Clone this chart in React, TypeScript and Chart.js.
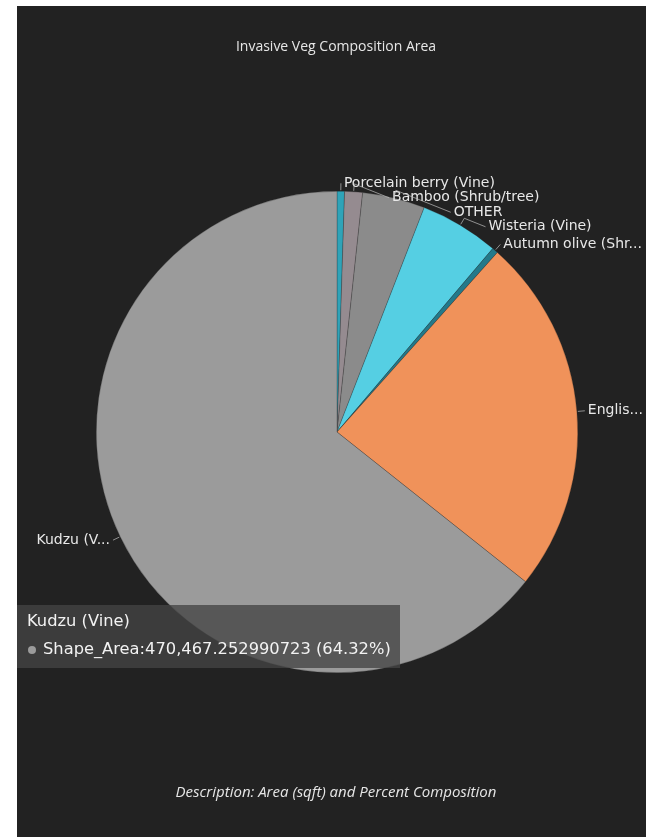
import React, { useEffect, useRef } from "react";
import { Chart, registerables } from "chart.js";

Chart.register(...registerables);

// ---- data ----
const chartTitle = "Invasive Veg Composition Area";
const descriptionText = "Description: Area (sqft) and Percent Composition";
const measureName = "Shape_Area";
const categories = [
  "Porcelain berry (Vine)",
  "Bamboo (Shrub/tree)",
  "OTHER",
  "Wisteria (Vine)",
  "Autumn olive (Shrub/tree)",
  "English ivy (Vine)",
  "Kudzu (Vine)",
];
const areas = [3660, 8780, 30720, 38770, 2930, 176130, 470467.252990723];
const sliceColors = ["#2fa3b8", "#958b90", "#8b8b8b", "#55cfe3", "#23798a", "#f0925a", "#9b9b9b"];
const tooltipIndex = 6;

const W = 629;
const H = 831;
const BG = "#222222";
const FONT = "'Open Sans', 'Noto Sans', sans-serif";
const LABEL_FONT = "14px 'DejaVu Sans', sans-serif";

function fit(ctx: CanvasRenderingContext2D, text: string, maxW: number) {
  if (ctx.measureText(text).width <= maxW) return text;
  let t = text;
  while (t.length > 1 && ctx.measureText(t + "...").width > maxW) t = t.slice(0, -1);
  return t + "...";
}

const decorPlugin = {
  id: "decor",
  beforeDraw(chart: any) {
    const ctx = chart.ctx;
    ctx.save();
    ctx.fillStyle = BG;
    ctx.fillRect(0, 0, chart.width, chart.height);
    ctx.restore();
  },
  afterDatasetsDraw(chart: any) {
    const ctx: CanvasRenderingContext2D = chart.ctx;
    const meta = chart.getDatasetMeta(0);
    const items = meta.data.map((arc: any, i: number) => {
      const p = arc.getProps(["x", "y", "startAngle", "endAngle", "outerRadius"], true);
      const mid = (p.startAngle + p.endAngle) / 2;
      const c = Math.cos(mid), s = Math.sin(mid);
      return {
        i,
        right: c >= 0,
        ax: p.x + c * (p.outerRadius + 1),
        ay: p.y + s * (p.outerRadius + 1),
        ex: p.x + c * (p.outerRadius + 8),
        ey: p.y + s * (p.outerRadius + 8),
        ly: 0,
      };
    });
    ctx.save();
    ctx.font = LABEL_FONT;
    ctx.textBaseline = "middle";
    for (const side of [true, false]) {
      const list = items.filter((it: any) => it.right === side).sort((a: any, b: any) => a.ey - b.ey);
      let prev = -Infinity;
      for (const it of list) {
        it.ly = Math.max(it.ey, prev + 14.5);
        prev = it.ly;
        const shift = it.ly - it.ey;
        const tx = side ? it.ex + 3 + 2.5 * shift : it.ex - 3 - 2.5 * shift;
        ctx.strokeStyle = "rgba(190,190,190,0.7)";
        ctx.lineWidth = 1;
        ctx.beginPath();
        ctx.moveTo(it.ax, it.ay);
        ctx.lineTo(it.ex, it.ey);
        ctx.lineTo(side ? tx - 3 : tx + 3, it.ly);
        ctx.stroke();
        const maxW = side ? chart.width - 2 - tx : tx - 16;
        const label = fit(ctx, categories[it.i], maxW);
        ctx.fillStyle = "#e8e8e8";
        ctx.textAlign = side ? "left" : "right";
        ctx.fillText(label, tx, it.ly);
      }
    }
    ctx.restore();
  },
  afterDraw(chart: any) {
    const ctx: CanvasRenderingContext2D = chart.ctx;
    ctx.save();
    // title
    ctx.fillStyle = "#e6e6e6";
    ctx.textAlign = "center";
    ctx.textBaseline = "middle";
    ctx.font = `14px ${FONT}`;
    ctx.fillText(chartTitle, 319, 41);
    ctx.font = `italic 15px ${FONT}`;
    ctx.fillText(descriptionText, 319, 787);

    // static tooltip
    const total = areas.reduce((a, b) => a + b, 0);
    const v = areas[tooltipIndex];
    const pct = ((v / total) * 100).toFixed(2);
    const valStr = v.toLocaleString("en-US", { minimumFractionDigits: 9, maximumFractionDigits: 9 });
    ctx.fillStyle = "rgba(68,68,68,0.78)";
    ctx.fillRect(0, 599, 383, 63);
    ctx.textAlign = "left";
    ctx.fillStyle = "#f2f2f2";
    ctx.font = `16.3px 'DejaVu Sans', sans-serif`;
    ctx.fillText(categories[tooltipIndex], 10, 616);
    ctx.fillStyle = sliceColors[tooltipIndex];
    ctx.beginPath();
    ctx.arc(15, 644, 4, 0, Math.PI * 2);
    ctx.fill();
    ctx.fillStyle = "#f2f2f2";
    ctx.fillText(`${measureName}:${valStr} (${pct}%)`, 26, 644);
    ctx.restore();
  },
};

export default function App() {
  const ref = useRef<HTMLCanvasElement>(null);
  useEffect(() => {
    if (!ref.current) return;
    const chart = new Chart(ref.current, {
      type: "pie",
      data: {
        labels: categories,
        datasets: [
          {
            data: areas,
            backgroundColor: sliceColors,
            borderColor: "rgba(34,34,34,0.5)",
            borderWidth: 0.5,
            hoverOffset: 0,
          },
        ],
      },
      options: {
        responsive: false,
        animation: false,
        events: [],
        layout: { padding: { left: 79, right: 68, top: 185, bottom: 164 } },
        plugins: {
          legend: { display: false },
          tooltip: { enabled: false },
          title: { display: false },
        },
      },
      plugins: [decorPlugin],
    });
    return () => chart.destroy();
  }, []);
  return (
    <div style={{ position: "fixed", left: 17, top: 6, width: W, height: H, background: BG }}>
      <canvas ref={ref} width={W} height={H} style={{ width: W, height: H, display: "block" }} />
    </div>
  );
}
